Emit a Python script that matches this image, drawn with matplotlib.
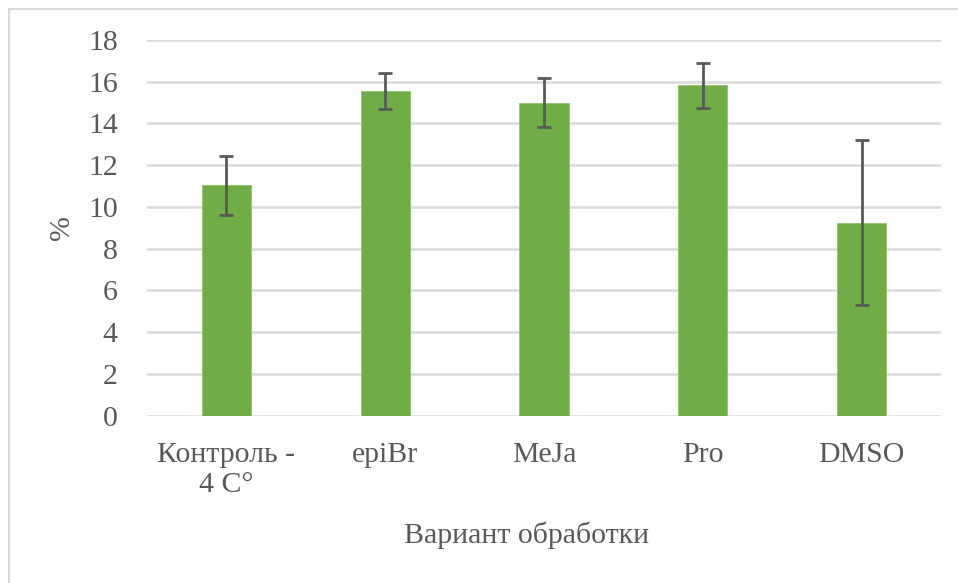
import matplotlib
matplotlib.use("Agg")
import matplotlib.pyplot as plt
from matplotlib.lines import Line2D

categories = ["Контроль -\n4 C°", "epiBr", "MeJa", "Pro", "DMSO"]
values = [11.03, 15.54, 15.0, 15.83, 9.25]
errors = [1.41, 0.86, 1.18, 1.08, 3.97]
yticks = [0, 2, 4, 6, 8, 10, 12, 14, 16, 18]

plt.rcParams['font.family'] = ['Liberation Serif', 'DejaVu Serif']
text_color = '#595959'
W, H = 958, 583
fig = plt.figure(figsize=(W / 100, H / 100), dpi=100)
ax = fig.add_axes([147 / W, 1 - 415.7 / H, (941 - 147) / W, (415.7 - 40) / H])

x = list(range(len(categories)))
ax.bar(x, values, width=0.31, color='#70AD47', edgecolor='#8FC46A', linewidth=0.6, zorder=3)
ax.errorbar(x, values, yerr=errors, fmt='none', ecolor='#595959', elinewidth=2,
            capsize=5, capthick=2, zorder=4)

ax.set_xlim(-0.5, len(categories) - 0.5)
ax.set_ylim(0, 18)
ax.set_yticks(yticks)
ax.set_yticklabels([str(t) for t in yticks])
ax.set_xticks(x)
ax.set_xticklabels(categories, linespacing=1.2)
ax.tick_params(axis='both', length=0, labelsize=21.5, colors=text_color)
ax.tick_params(axis='y', pad=21)
ax.tick_params(axis='x', pad=19)
ax.grid(axis='y', color='#D9D9D9', linewidth=1.8, zorder=0)
for s in ['top', 'right', 'left', 'bottom']:
    ax.spines[s].set_visible(False)

fig.text(62 / W, 1 - 228 / H, '%', fontsize=21.5, color=text_color,
         rotation=90, ha='center', va='center')
fig.text(527 / W, 1 - 535 / H, 'Вариант обработки', fontsize=21.5, color=text_color,
         ha='center', va='center')

# outer chart border (left and top visible)
fig.add_artist(Line2D([9 / W, 9 / W], [0, 1 - 9 / H], transform=fig.transFigure,
                      color='#D9D9D9', linewidth=1.5))
fig.add_artist(Line2D([9 / W, 1], [1 - 9 / H, 1 - 9 / H], transform=fig.transFigure,
                      color='#D9D9D9', linewidth=1.5))

fig.savefig('out.png', dpi=100, facecolor='white')
